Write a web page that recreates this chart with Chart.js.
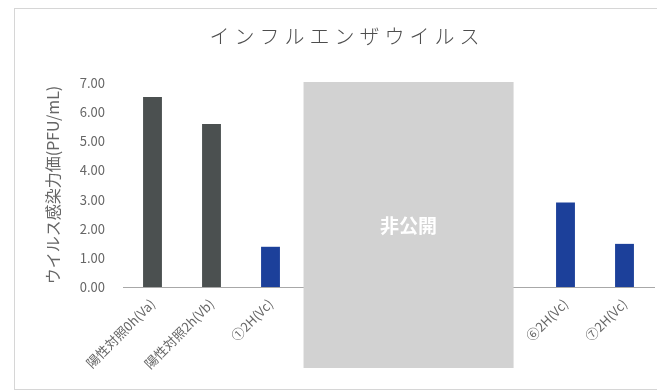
<!DOCTYPE html>
<html lang="ja">
<head>
<meta charset="UTF-8" />
<title>インフルエンザウイルス</title>
<script src="https://cdn.jsdelivr.net/npm/chart.js"></script>
<style>
  html, body { margin: 0; padding: 0; background: #fff; }
  #wrap { width: 657px; height: 392px; }
</style>
</head>
<body>
<div id="wrap"><canvas id="chart" width="657" height="392"></canvas></div>
<script>
  const titleText = "インフルエンザウイルス";
  const yTitle = "ウイルス感染力価(PFU/mL)";
  // categories ②〜⑤ are redacted in the source (label and bar hidden)
  const labels = ["陽性対照0h(Va)", "陽性対照2h(Vb)", "①2H(Vc)", "", "", "", "", "⑥2H(Vc)", "⑦2H(Vc)"];
  const values = [6.52, 5.59, 1.38, null, null, null, null, 2.90, 1.48];
  const barColors = ["#4b5050", "#4b5050", "#1c409a", "#1c409a", "#1c409a", "#1c409a", "#1c409a", "#1c409a", "#1c409a"];
  const yTicks = [0, 1, 2, 3, 4, 5, 6, 7];
  const hiddenFrom = 3, hiddenTo = 6;   // categories covered by the 非公開 box
  const hiddenText = "非公開";

  const JP = "'Noto Sans CJK JP', 'Noto Sans', sans-serif";

  const decor = {
    id: "decor",
    beforeDraw(chart) {
      const ctx = chart.ctx;
      ctx.save();
      ctx.strokeStyle = "#d6d6d6";
      ctx.lineWidth = 1;
      ctx.strokeRect(14.5, 8.5, 700, 381);
      ctx.fillStyle = "#4d4d4d";
      ctx.font = "300 20px " + JP;
      ctx.letterSpacing = "5px";
      ctx.textAlign = "center";
      ctx.textBaseline = "middle";
      ctx.fillText(titleText, 347, 36);
      ctx.restore();
    },
    afterDraw(chart) {
      const ctx = chart.ctx;
      const x = chart.scales.x, y = chart.scales.y;
      const step = x.getPixelForValue(1) - x.getPixelForValue(0);
      const left = x.getPixelForValue(hiddenFrom) - step * 0.44;
      const right = x.getPixelForValue(hiddenTo) + step * 0.12;
      const top = y.getPixelForValue(7) - 1;
      const bottom = chart.chartArea.bottom + 81;
      ctx.save();
      ctx.fillStyle = "#d2d2d2";
      ctx.fillRect(left, top, right - left, bottom - top);
      ctx.fillStyle = "#ffffff";
      ctx.font = "bold 19px " + JP;
      ctx.textAlign = "center";
      ctx.textBaseline = "middle";
      ctx.fillText(hiddenText, (left + right) / 2, y.getPixelForValue(2.1));
      ctx.restore();
    }
  };

  new Chart(document.getElementById("chart"), {
    type: "bar",
    data: {
      labels: labels,
      datasets: [{
        data: values,
        backgroundColor: barColors,
        categoryPercentage: 0.8,
        barPercentage: 0.4
      }]
    },
    options: {
      responsive: false,
      animation: false,
      layout: { padding: { top: 83, right: 3, left: 0, bottom: 0 } },
      plugins: {
        legend: { display: false },
        tooltip: { enabled: false },
        title: { display: false }
      },
      scales: {
        x: {
          grid: { display: false, drawTicks: false },
          border: { display: true, color: "#a8a8a8", width: 1 },
          ticks: {
            color: "#666666",
            font: { family: JP, size: 13 },
            minRotation: 45,
            maxRotation: 45,
            padding: 9,
            autoSkip: false
          },
          afterFit(s) { s.height = 105; }
        },
        y: {
          min: 0,
          max: 7,
          afterBuildTicks(s) { s.ticks = yTicks.map(v => ({ value: v })); },
          grid: { display: false, drawTicks: false },
          border: { display: false },
          ticks: {
            color: "#666666",
            font: { family: JP, size: 13 },
            padding: 18,
            callback: v => Number(v).toFixed(2)
          },
          title: {
            display: true,
            text: yTitle,
            color: "#666666",
            font: { family: JP, size: 16 },
            padding: { top: 43, bottom: 0 }
          },
          afterFit(s) { s.width = 123; }
        }
      }
    },
    plugins: [decor]
  });
</script>
</body>
</html>
